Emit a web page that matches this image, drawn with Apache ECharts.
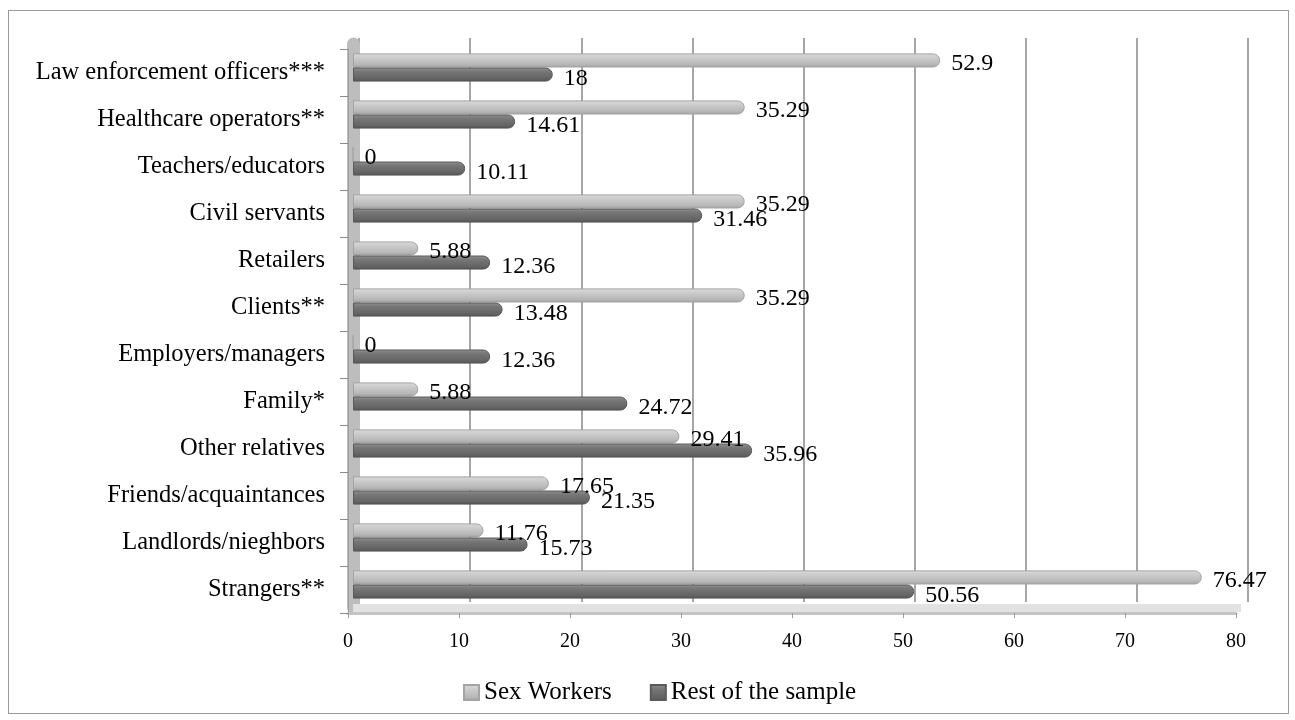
<!DOCTYPE html>
<html>
<head>
<meta charset="utf-8">
<title>Discrimination sources</title>
<script src="https://cdn.jsdelivr.net/npm/echarts@6/dist/echarts.min.js"></script>
<style>
  html, body { margin: 0; padding: 0; background: #fff; }
  #chart { position: absolute; left: 0; top: 0; width: 1295px; height: 720px; }
  #frame { position: absolute; left: 8px; top: 10px; width: 1279px; height: 702px; border: 1px solid #9a9a9a; pointer-events: none; }
</style>
</head>
<body>
<div id="chart"></div>
<div id="frame"></div>
<script>
// categories, top to bottom
const categories = [
  'Law enforcement officers***',
  'Healthcare operators**',
  'Teachers/educators',
  'Civil servants',
  'Retailers',
  'Clients**',
  'Employers/managers',
  'Family*',
  'Other relatives',
  'Friends/acquaintances',
  'Landlords/nieghbors',
  'Strangers**'
]
const sexWorkers = [52.9, 35.29, 0, 35.29, 5.88, 35.29, 0, 5.88, 29.41, 17.65, 11.76, 76.47]
const restOfSample = [18, 14.61, 10.11, 31.46, 12.36, 13.48, 12.36, 24.72, 35.96, 21.35, 15.73, 50.56]
const xTicks = [0, 80, 10] // min, max, interval

const serif = '"Liberation Serif", "Times New Roman", serif'

function grad(stops) {
  return new echarts.graphic.LinearGradient(0, 0, 0, 1,
    stops.map((c) => ({ offset: c[0], color: c[1] })))
}

const lightColor = grad([[0, '#dadada'], [0.35, '#cacaca'], [0.8, '#b6b6b6'], [1, '#9e9e9e']])
const darkColor = grad([[0, '#909090'], [0.3, '#767676'], [0.8, '#636363'], [1, '#4f4f4f']])

const chart = echarts.init(document.getElementById('chart'))

chart.setOption({
  animation: false,
  textStyle: { fontFamily: serif, color: '#000' },
  legend: {
    left: 458,
    top: 675,
    itemWidth: 15,
    itemHeight: 15,
    itemGap: 38,
    icon: 'rect',
    textStyle: { fontFamily: serif, fontSize: 25, color: '#000' },
    data: ['Sex Workers', 'Rest of the sample']
  },
  grid: [
    // back wall
    { left: 359, top: 38, width: 889, height: 564 },
    // bars (mid depth)
    { left: 353, top: 44, width: 888, height: 564 },
    // front edge with axis labels
    { left: 348, top: 49, width: 888, height: 564 }
  ],
  xAxis: [
    {
      gridIndex: 0, type: 'value', min: xTicks[0], max: xTicks[1], interval: xTicks[2],
      axisLine: { show: false }, axisTick: { show: false }, axisLabel: { show: false },
      splitLine: { show: true, lineStyle: { color: '#a6a6a6', width: 2 } }
    },
    {
      gridIndex: 1, type: 'value', min: xTicks[0], max: xTicks[1], interval: xTicks[2],
      axisLine: { show: true, lineStyle: { color: '#e2e2e2', width: 8, cap: 'butt' } },
      axisTick: { show: false }, axisLabel: { show: false }, splitLine: { show: false }
    },
    {
      gridIndex: 2, type: 'value', min: xTicks[0], max: xTicks[1], interval: xTicks[2],
      axisLine: { show: true, lineStyle: { color: '#c4c4c4', width: 3 } },
      axisTick: { show: true, length: 5, lineStyle: { color: '#9a9a9a' } },
      axisLabel: { margin: 19, fontSize: 20, fontFamily: serif, color: '#000' },
      splitLine: { show: false }
    }
  ],
  yAxis: [
    {
      gridIndex: 0, type: 'category', data: categories, inverse: true,
      axisLine: { show: false }, axisTick: { show: false }, axisLabel: { show: false }
    },
    {
      gridIndex: 1, type: 'category', data: categories, inverse: true,
      axisLine: { show: true, lineStyle: { color: '#bdbdbd', width: 13 } },
      axisTick: { show: false }, axisLabel: { show: false }
    },
    {
      gridIndex: 2, type: 'category', data: categories, inverse: true,
      axisLine: { show: true, lineStyle: { color: '#a0a0a0', width: 1 } },
      axisTick: { show: true, length: 8, lineStyle: { color: '#8a8a8a' } },
      axisLabel: { margin: 23, fontSize: 24.5, fontFamily: serif, color: '#000' }
    }
  ],
  series: [
    {
      name: 'Sex Workers',
      type: 'bar',
      xAxisIndex: 1,
      yAxisIndex: 1,
      data: sexWorkers,
      barGap: '0%',
      barCategoryGap: '40%',
      itemStyle: { color: lightColor, borderColor: '#a4a4a4', borderWidth: 1, borderRadius: [0, 7, 7, 0] },
      label: {
        show: true, position: 'right', distance: 11, offset: [0, 3],
        fontSize: 24, fontFamily: serif, color: '#000'
      }
    },
    {
      name: 'Rest of the sample',
      type: 'bar',
      xAxisIndex: 1,
      yAxisIndex: 1,
      data: restOfSample,
      barGap: '0%',
      barCategoryGap: '40%',
      itemStyle: { color: darkColor, borderColor: '#5a5a5a', borderWidth: 1, borderRadius: [0, 7, 7, 0] },
      label: {
        show: true, position: 'right', distance: 11, offset: [0, 4],
        fontSize: 24, fontFamily: serif, color: '#000'
      }
    }
  ]
})
</script>
</body>
</html>
